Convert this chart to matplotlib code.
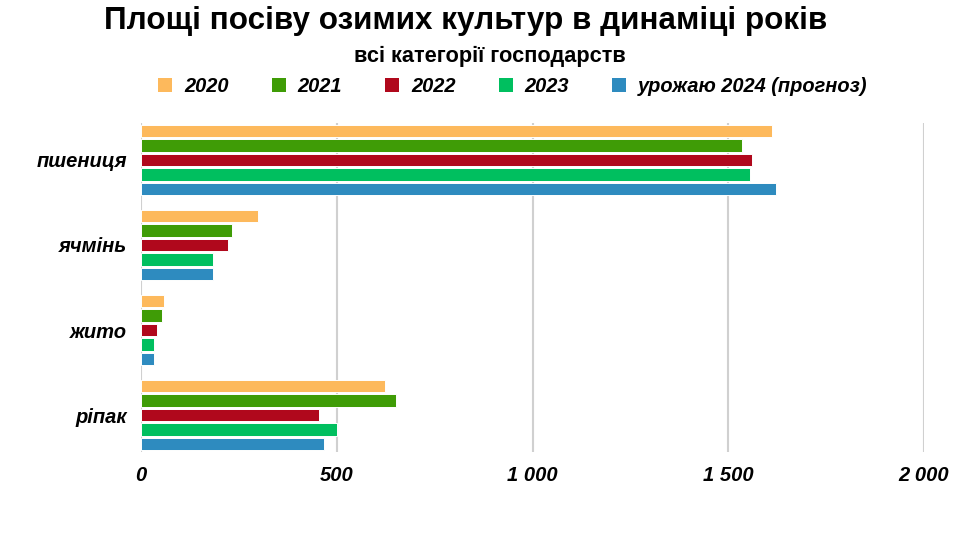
import matplotlib.pyplot as plt
import numpy as np
from matplotlib.patches import Patch

plt.rcParams['font.family'] = ['Liberation Sans', 'DejaVu Sans']

# crops and years
crops = ['пшениця', 'ячмінь', 'жито', 'ріпак']
series = ['2020', '2021', '2022', '2023', 'урожаю 2024 (прогноз)']
colors = ['#FDB95C', '#3F9C06', '#B0081C', '#00BF5F', '#2E8BBF']

# sown area, thousand ha
v2020 = [1611, 298, 60, 624]
v2021 = [1535, 232, 54, 652]
v2022 = [1561, 223, 40, 455]
v2023 = [1556, 183, 32, 500]
v2024 = [1623, 184, 32, 468]
values = [v2020, v2021, v2022, v2023, v2024]

xticks = [0, 500, 1000, 1500, 2000]
xticklabels = ['0', '500', '1 000', '1 500', '2 000']

fig = plt.figure(figsize=(9.8, 5.51), dpi=100)
ax = fig.add_axes([141/980, 1 - 452/551, (924 - 141)/980, (452 - 123)/551])

y = np.arange(len(crops))
step = 0.1706
for j, (vals, c) in enumerate(zip(values, colors)):
    ax.barh(y + (j - 2) * step, vals, height=0.15, color=c,
            edgecolor='white', linewidth=0.7, zorder=3)

ax.set_xlim(0, 2000)
ax.set_ylim(3.435, -0.435)
ax.set_xticks(xticks)
ax.set_xticklabels(xticklabels, fontsize=14.5, fontweight='bold', style='italic')
ax.set_yticks(y)
ax.set_yticklabels(crops, fontsize=14.5, fontweight='bold', style='italic')
ax.tick_params(axis='x', length=0, pad=10)
ax.tick_params(axis='y', length=0, pad=10)
ax.grid(axis='x', color='#d0d0d0', linewidth=1.5, zorder=0)
for s in ax.spines.values():
    s.set_visible(False)

fig.text(466/980, 1 - 21/551, 'Площі посіву озимих культур в динаміці років',
         ha='center', va='center', fontsize=22.6, fontweight='bold')
fig.text(490/980, 1 - 56/551, 'всі категорії господарств',
         ha='center', va='center', fontsize=15.7, fontweight='bold')

handles = [Patch(facecolor=c, edgecolor='none') for c in colors]
leg = fig.legend(handles, series, loc='center', bbox_to_anchor=(513/980, 1 - 86/551),
                 ncol=5, frameon=False, handlelength=0.7, handleheight=0.7,
                 handletextpad=0.6, columnspacing=2.15,
                 prop={'size': 14.4, 'weight': 'bold', 'style': 'italic'})

fig.savefig('out.png', dpi=100)
